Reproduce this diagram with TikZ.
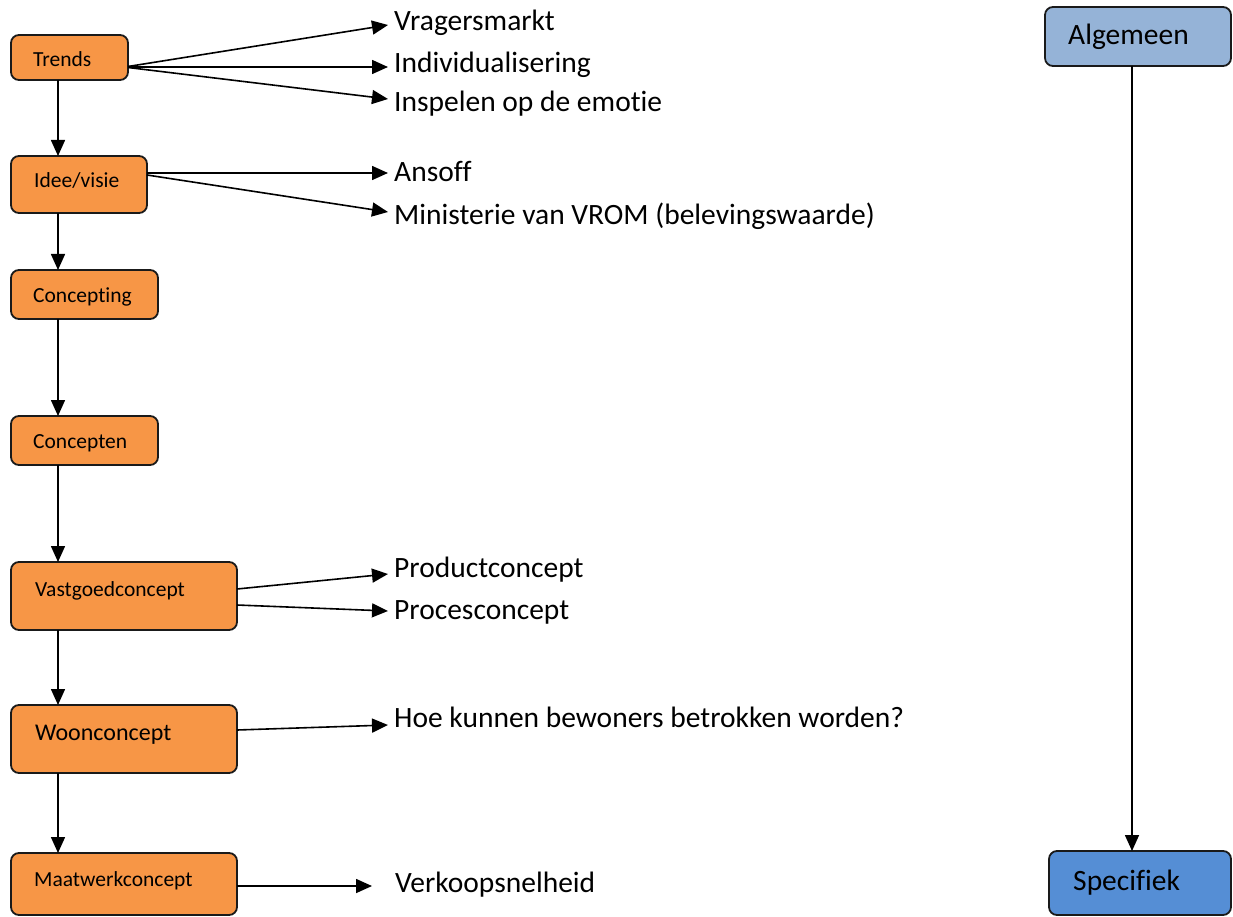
\documentclass[tikz,border=0pt]{standalone}
\usepackage{fontspec}
\setmainfont{Carlito}[Ligatures=NoCommon]
\usetikzlibrary{arrows.meta}
\definecolor{boxorange}{HTML}{F79646}
\definecolor{boxlight}{HTML}{95B3D7}
\definecolor{boxblue}{HTML}{558ED5}
\definecolor{boxline}{HTML}{1A1A1A}
\tikzset{
  box/.style={draw=boxline, line width=1.8pt, rounded corners=8pt, inner sep=0pt, outer sep=0pt, anchor=north west},
  obox/.style={box, fill=boxorange},
  boxtext/.style={anchor=base west, inner sep=0pt, font=\fontsize{21.5}{25}\selectfont},
  bigboxtext/.style={anchor=base west, inner sep=0pt, font=\fontsize{24}{28}\selectfont},
  lbl/.style={anchor=base west, inner sep=0pt, font=\fontsize{29.5}{34}\selectfont},
  arr/.style={line width=1.6pt, -{Triangle[length=16pt,width=14pt]}}
}
\begin{document}
\begin{tikzpicture}[x=1pt,y=-1pt]
\useasboundingbox (0,0) rectangle (1233,917);
% boxes
\node[obox, minimum width=117pt, minimum height=45pt] (trends) at (11,35) {};
\node[obox, minimum width=136pt, minimum height=57pt] (idee) at (11,156) {};
\node[obox, minimum width=147pt, minimum height=49pt] (concepting) at (11,270) {};
\node[obox, minimum width=147pt, minimum height=49pt] (concepten) at (11,416) {};
\node[obox, minimum width=226pt, minimum height=68pt] (vastgoed) at (11,562) {};
\node[obox, minimum width=226pt, minimum height=68pt] (woon) at (11,705) {};
\node[obox, minimum width=226pt, minimum height=62pt] (maatwerk) at (11,853) {};
\node[box, fill=boxlight, minimum width=186pt, minimum height=59pt] (alg) at (1045,7) {};
\node[box, fill=boxblue, minimum width=182pt, minimum height=64pt] (spec) at (1049,851) {};
% box texts
\node[boxtext] (ttrends) at (33,67) {Trends};
\node[boxtext] (tidee) at (34,188) {Idee/visie};
\node[boxtext] (tconcepting) at (33,302) {Concepting};
\node[boxtext] (tconcepten) at (33,448) {Concepten};
\node[boxtext] (tvastgoed) at (35,596) {Vastgoedconcept};
\node[bigboxtext] (twoon) at (35,740) {Woonconcept};
\node[boxtext] (tmaatwerk) at (34,886) {Maatwerkconcept};
\node[lbl] (talg) at (1068,45) {Algemeen};
\node[lbl] (tspec) at (1073,890) {Specifiek};
% labels
\node[lbl] (l1) at (394,31) {Vragersmarkt};
\node[lbl] (l2) at (394,73) {Individualisering};
\node[lbl] (l3) at (394,112) {Inspelen op de emotie};
\node[lbl] (l4) at (394,182) {Ansoff};
\node[lbl] (l5) at (394,225) {Ministerie van VROM (belevingswaarde)};
\node[lbl] (l6) at (394,577) {Productconcept};
\node[lbl] (l7) at (394,619) {Procesconcept};
\node[lbl] (l8) at (394,727) {Hoe kunnen bewoners betrokken worden?};
\node[lbl] (l9) at (395,892) {Verkoopsnelheid};
% arrow tips
\coordinate (e1) at (388,25);
\coordinate (e2) at (388,67);
\coordinate (e3) at (388,99);
\coordinate (e4) at (388,173);
\coordinate (e5) at (388,212);
\coordinate (e6) at (388,574);
\coordinate (e7) at (388,611);
\coordinate (e8) at (388,725);
\coordinate (e9) at (372,886);
% fan arrows
\draw[arr] ([yshift=-9pt]trends.east) -- (e1);
\draw[arr] ([yshift=-9.5pt]trends.east) -- (e2);
\draw[arr] ([yshift=-10pt]trends.east) -- (e3);
\draw[arr] ([yshift=11.5pt]idee.east) -- (e4);
\draw[arr] ([yshift=9.5pt]idee.east) -- (e5);
\draw[arr] ([yshift=7pt]vastgoed.east) -- (e6);
\draw[arr] ([yshift=-9pt]vastgoed.east) -- (e7);
\draw[arr] ([yshift=9pt]woon.east) -- (e8);
\draw[arr] ([yshift=-2pt]maatwerk.east) -- (e9);
% vertical chain
\draw[arr] ([xshift=47pt]trends.south west) -- ([xshift=47pt]idee.north west);
\draw[arr] ([xshift=47pt]idee.south west) -- ([xshift=47pt]concepting.north west);
\draw[arr] ([xshift=47pt]concepting.south west) -- ([xshift=47pt]concepten.north west);
\draw[arr] ([xshift=47pt]concepten.south west) -- ([xshift=47pt]vastgoed.north west);
\draw[arr] ([xshift=47pt]vastgoed.south west) -- ([xshift=47pt]woon.north west);
\draw[arr] ([xshift=47pt]woon.south west) -- ([xshift=47pt]maatwerk.north west);
\draw[arr] ([xshift=87pt]alg.south west) -- ([xshift=83pt]spec.north west);
\end{tikzpicture}
\end{document}
